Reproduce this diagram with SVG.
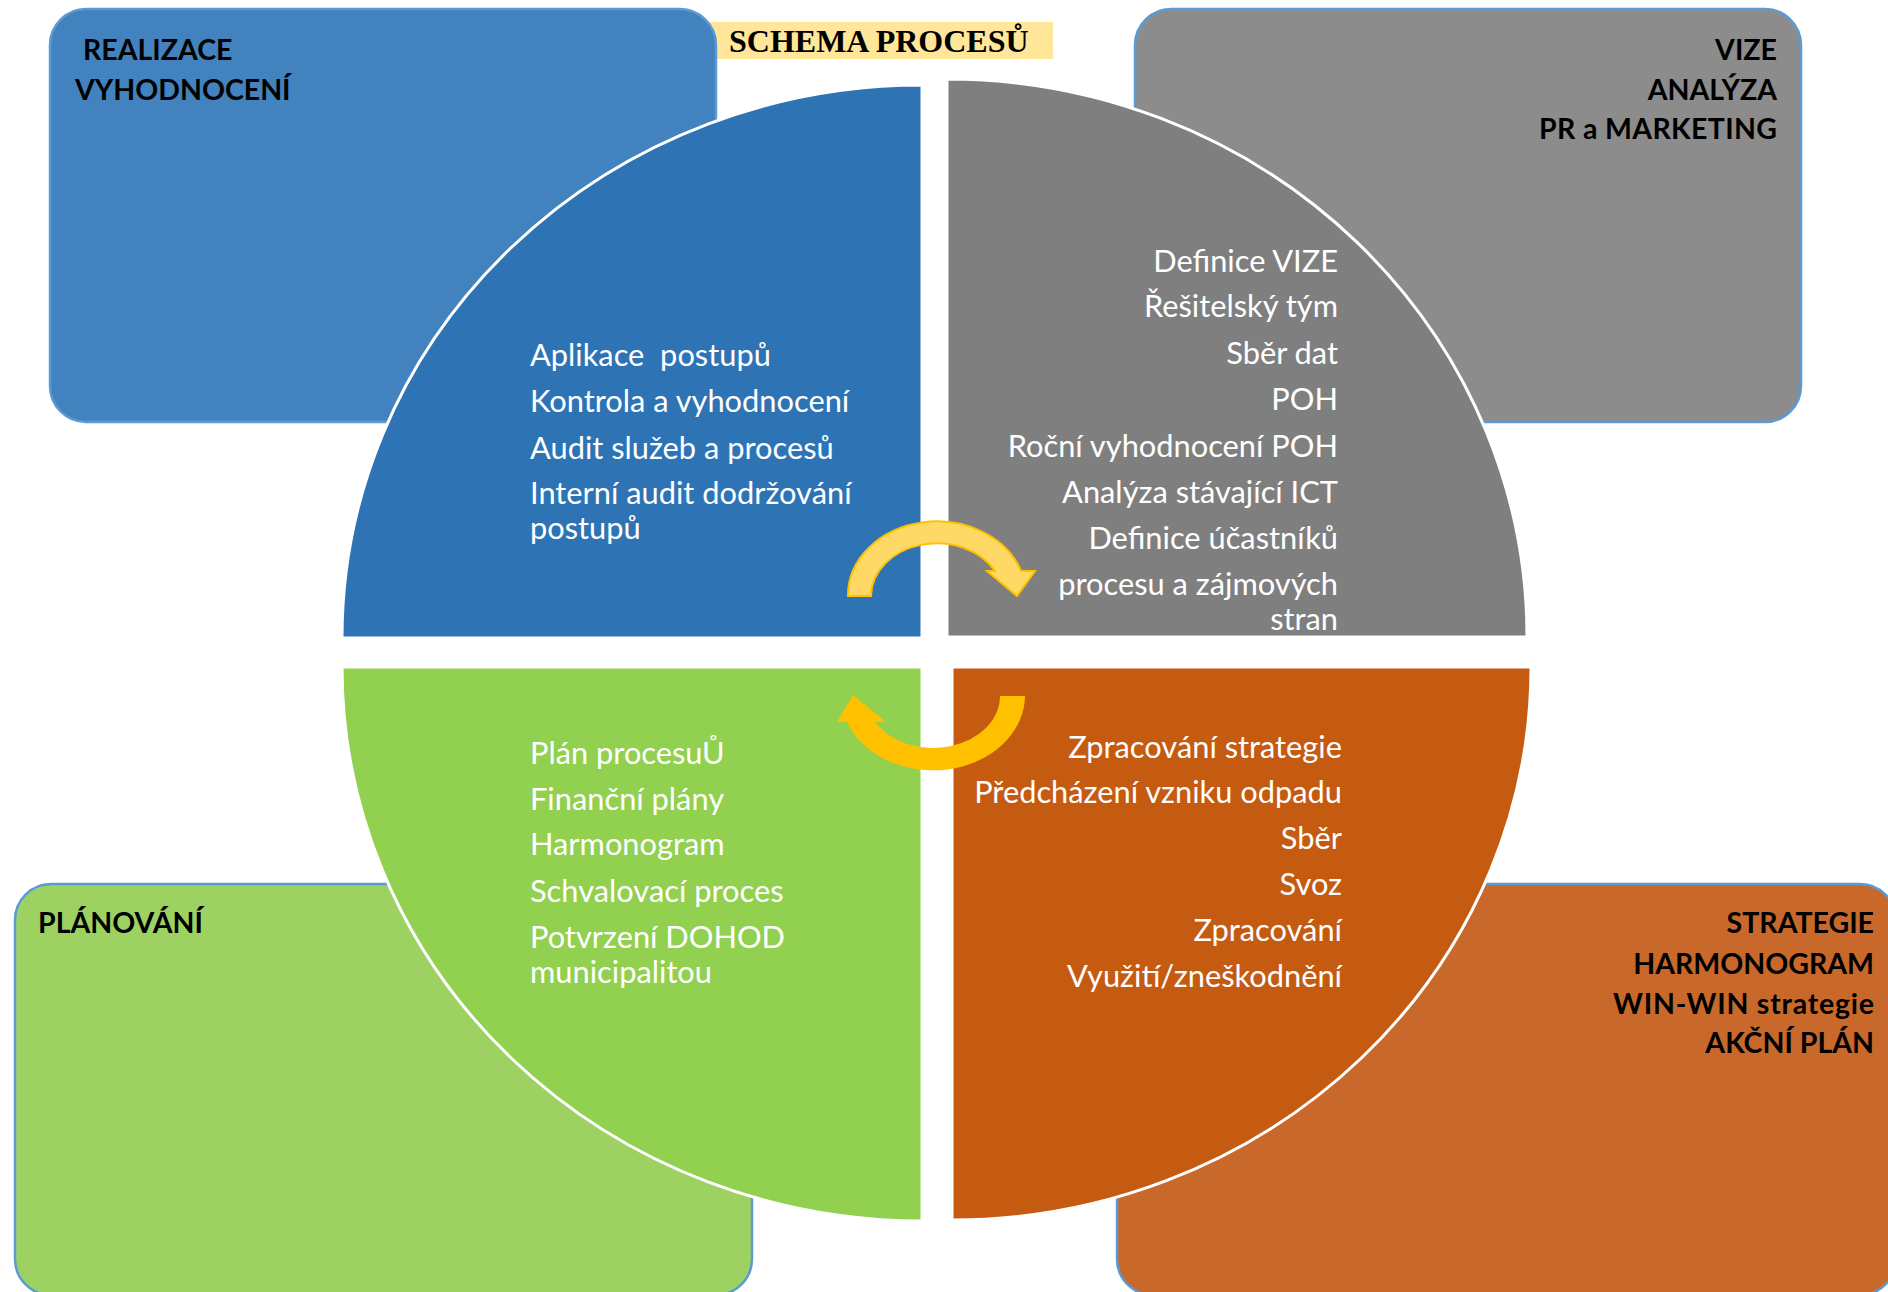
<svg xmlns="http://www.w3.org/2000/svg" width="1888" height="1292" viewBox="0 0 1888 1292">
<style>
.box{stroke:#5B9BD5;stroke-width:2.5}
.q{stroke:#FFFFFF;stroke-width:3}
.lbl{font-family:Lato,"Open Sans","Liberation Sans",sans-serif;font-weight:700;font-size:28.5px;fill:#000000}
.wt{font-family:Lato,"Open Sans","Liberation Sans",sans-serif;font-size:30.8px;fill:#FFFFFF}
.r{text-anchor:end}
.pre{white-space:pre}
.title{font-family:"Liberation Serif","Times New Roman",serif;font-weight:700;font-size:32px;fill:#000000}
</style>
<rect width="1888" height="1292" fill="#FFFFFF"/>

<g id="title">
<rect x="702" y="22" width="351" height="37" fill="#FFE699"/>
<text class="title" x="729" y="52">SCHEMA PROCESŮ</text>
</g>

<g id="box-realizace">
<rect class="box" x="50" y="9" width="666" height="413" rx="36" ry="36" fill="#4282BE"/>
<text class="lbl" x="83" y="60">REALIZACE</text>
<text class="lbl" x="75" y="100">VYHODNOCENÍ</text>
</g>

<g id="box-vize">
<rect class="box" x="1135" y="9" width="666" height="413" rx="36" ry="36" fill="#8C8C8C"/>
<text class="lbl r" x="1777" y="60">VIZE</text>
<text class="lbl r" x="1777" y="100">ANALÝZA</text>
<text class="lbl r" x="1777" y="139" textLength="238" lengthAdjust="spacing">PR a MARKETING</text>
</g>

<g id="box-planovani">
<rect class="box" x="15" y="884" width="737" height="411" rx="36" ry="36" fill="#9DD263"/>
<text class="lbl" x="38" y="933">PLÁNOVÁNÍ</text>
</g>

<g id="box-strategie">
<rect class="box" x="1117" y="884" width="779" height="411" rx="36" ry="36" fill="#C8692B"/>
<text class="lbl r" x="1874" y="933">STRATEGIE</text>
<text class="lbl r" x="1874" y="974">HARMONOGRAM</text>
<text class="lbl r" x="1874" y="1014" textLength="261" lengthAdjust="spacing">WIN-WIN strategie</text>
<text class="lbl r" x="1874" y="1053">AKČNÍ PLÁN</text>
</g>

<g id="q-realizace">
<path class="q" d="M922,638 L342,638 A580,553 0 0 1 922,85 Z" fill="#2E74B5"/>
<text class="wt pre" x="530" y="366">Aplikace  postupů</text>
<text class="wt" x="530" y="412">Kontrola a vyhodnocení</text>
<text class="wt" x="530" y="459">Audit služeb a procesů</text>
<text class="wt" x="530" y="504">Interní audit dodržování</text>
<text class="wt" x="530" y="539">postupů</text>
</g>

<g id="q-vize">
<path class="q" d="M947,637 L947,79 A580,558 0 0 1 1527,637 Z" fill="#7F7F7F"/>
<text class="wt r" x="1338" y="272">Definice VIZE</text>
<text class="wt r" x="1338" y="317">Řešitelský tým</text>
<text class="wt r" x="1338" y="364">Sběr dat</text>
<text class="wt r" x="1338" y="410">POH</text>
<text class="wt r" x="1338" y="457">Roční vyhodnocení POH</text>
<text class="wt r" x="1338" y="503">Analýza stávající ICT</text>
<text class="wt r" x="1338" y="549">Definice účastníků</text>
<text class="wt r" x="1338" y="595">procesu a zájmových</text>
<text class="wt r" x="1338" y="630">stran</text>
</g>

<g id="q-planovani">
<path class="q" d="M922,667 L922,1221 A580,554 0 0 1 342,667 Z" fill="#92D050"/>
<text class="wt" x="530" y="764">Plán procesuŮ</text>
<text class="wt" x="530" y="810">Finanční plány</text>
<text class="wt" x="530" y="855">Harmonogram</text>
<text class="wt" x="530" y="902">Schvalovací proces</text>
<text class="wt" x="530" y="948">Potvrzení DOHOD</text>
<text class="wt" x="530" y="983">municipalitou</text>
</g>

<g id="q-strategie">
<path class="q" d="M952,667 L1531,667 A579,553 0 0 1 952,1220 Z" fill="#C55A11"/>
<text class="wt r" x="1342" y="758">Zpracování strategie</text>
<text class="wt r" x="1342" y="803">Předcházení vzniku odpadu</text>
<text class="wt r" x="1342" y="849">Sběr</text>
<text class="wt r" x="1342" y="895">Svoz</text>
<text class="wt r" x="1342" y="941">Zpracování</text>
<text class="wt r" x="1342" y="987">Využití/zneškodnění</text>
</g>

<g id="connectors">
<path d="M848,596 A89,74 0 0 1 1021,571 L1035,571 L1017,596 L987,571 L995,571 A66,53 0 0 0 871,596 Z" fill="#FFD966" stroke="#FFC000" stroke-width="2" stroke-linejoin="miter"/>
<path d="M1025,696 A92,75 0 0 1 847,722 L837,722 L853,695 L886,722 L875,722 A67,52 0 0 0 1000,696 Z" fill="#FFC000"/>
</g>
</svg>
